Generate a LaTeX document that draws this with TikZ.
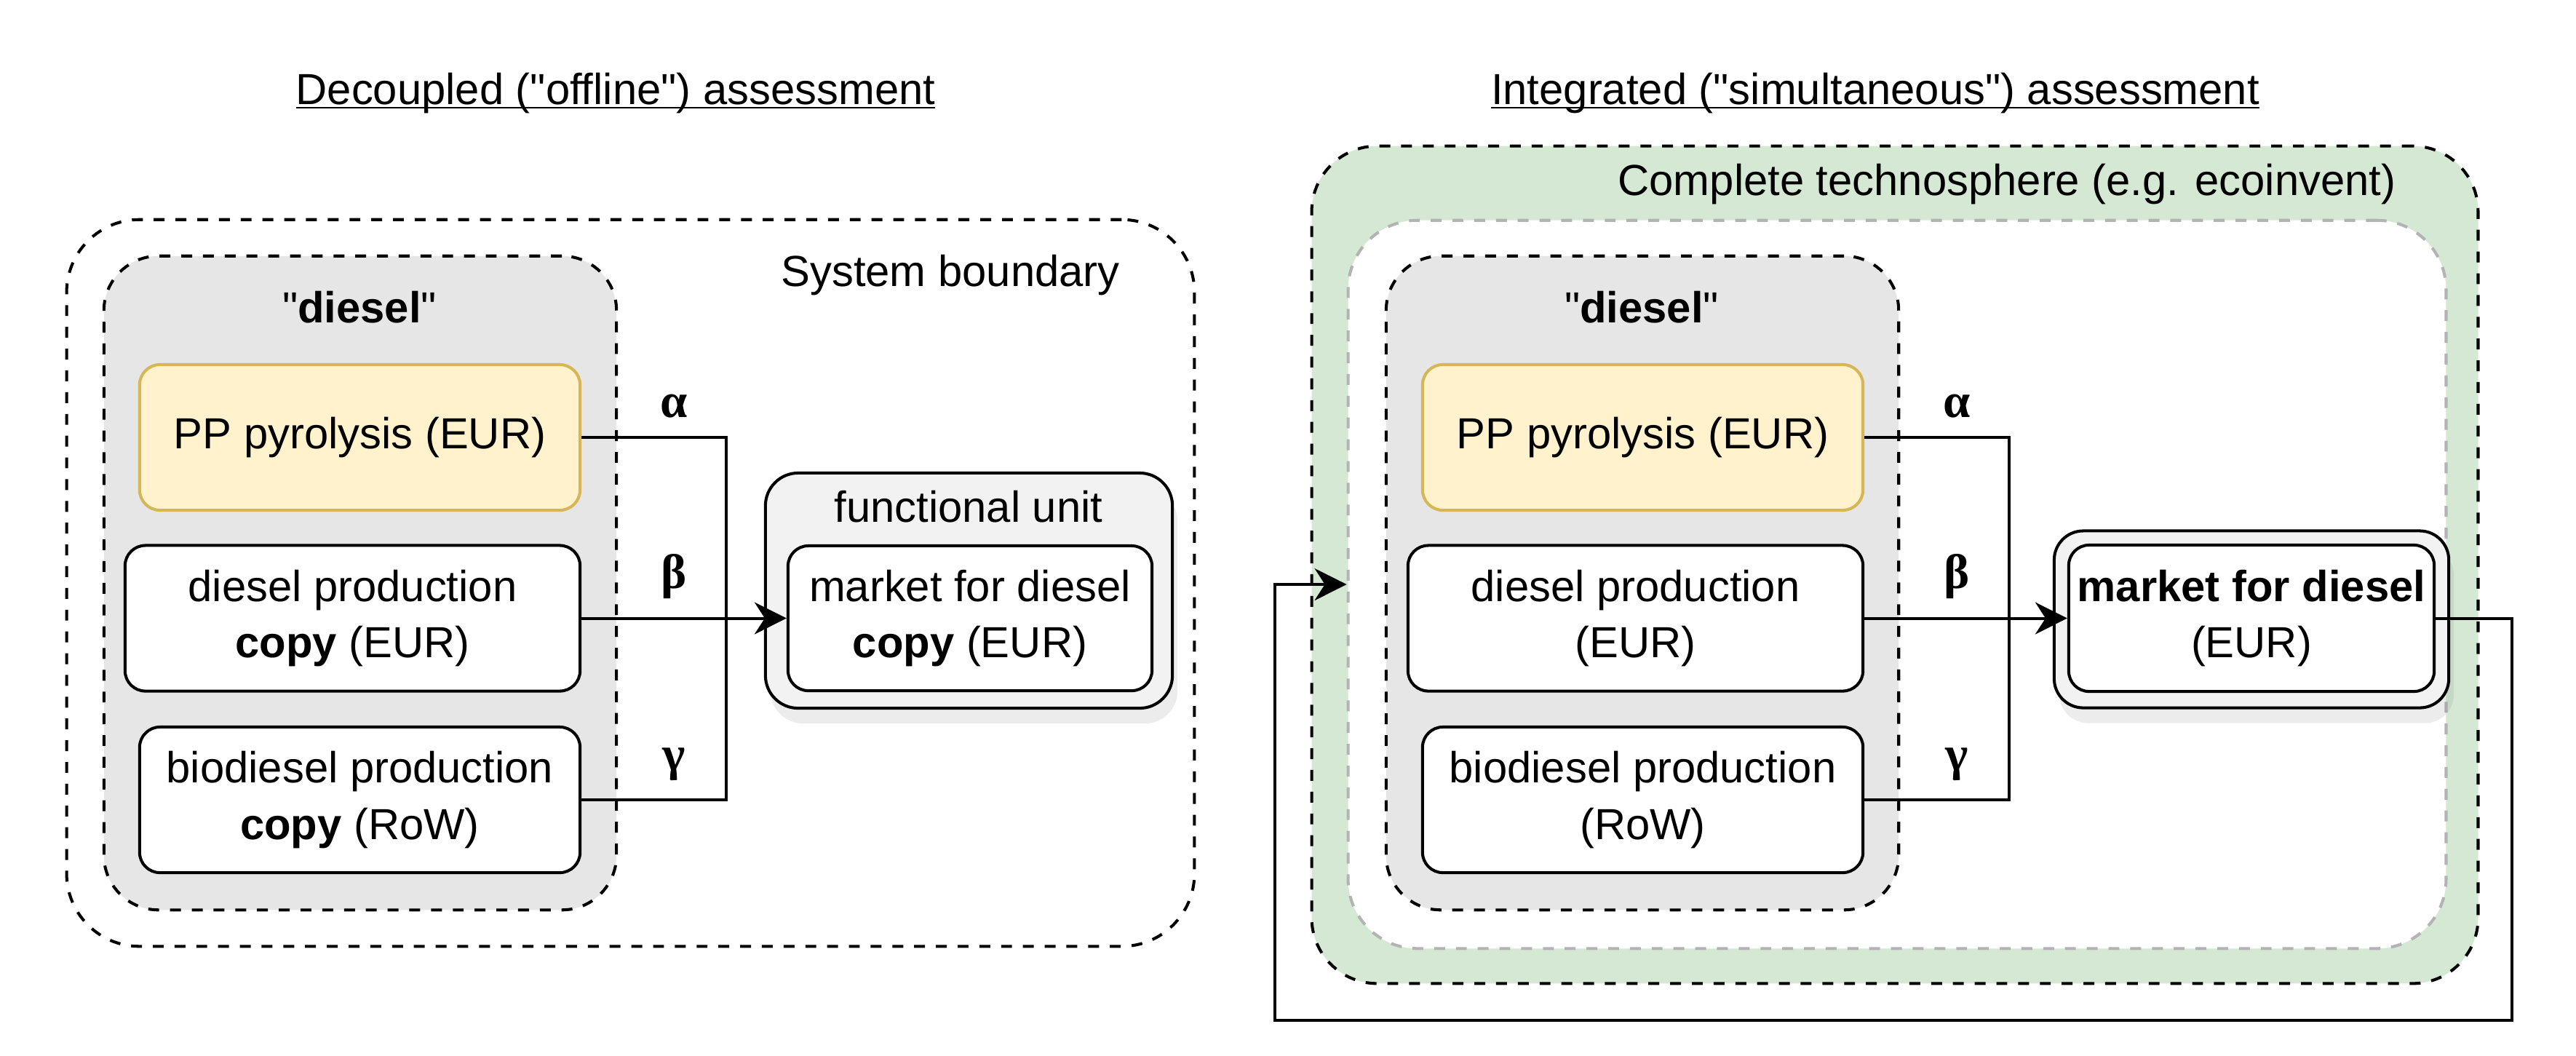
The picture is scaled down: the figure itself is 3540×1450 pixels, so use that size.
\documentclass[tikz,border=0pt]{standalone}
\usepackage{fontspec}
\setmainfont{Liberation Sans}
\newfontfamily\drawfont{Liberation Sans}
\newfontfamily\grkfont{Liberation Serif}
\usetikzlibrary{arrows.meta,shadows}
\definecolor{grpgray}{HTML}{E6E6E6}
\definecolor{ppfill}{HTML}{FFF2CC}
\definecolor{ppdraw}{HTML}{D6B656}
\definecolor{fugray}{HTML}{F2F2F2}
\definecolor{techgreen}{HTML}{D5E8D4}
\definecolor{bndgray}{HTML}{B3B3B3}

\begin{document}
\begin{tikzpicture}[x=0.01cm,y=-0.01cm,
   font=\drawfont\fontsize{17}{22}\selectfont,
   lw/.style={line width=1.15pt},
   dsh/.style={lw,dash pattern=on 4.25pt off 4.25pt},
   bndbox/.style={draw,dsh,inner sep=0pt},
   grpbox/.style={bndbox,fill=grpgray,rounded corners=0.75cm,minimum width=7.04cm,minimum height=8.98cm},
   proc/.style={draw,lw,fill=white,rounded corners=0.28cm,align=center,inner sep=0pt,minimum height=2cm},
   ppbox/.style={proc,draw=ppdraw,fill=ppfill,minimum width=6.05cm},
   fubox/.style={draw,lw,fill=fugray,inner sep=0pt,
      drop shadow={shadow xshift=2pt,shadow yshift=-6pt,opacity=0.15}},
   conn/.style={lw},
   arr/.style={lw,-{Stealth[length=12.5pt,width=12.5pt,inset=4pt]}},
   grk/.style={above=4pt,inner sep=3pt,font=\grkfont\bfseries\fontsize{19}{19}\selectfont},
   ttl/.style={anchor=base}]

\useasboundingbox (0,0) rectangle (3540,1450);

% decoupled
\node[ttl] (ttlL) at (846,143) {\underline{\smash{Decoupled ("offline") assessment}}};
\node[bndbox,rounded corners=1cm,minimum width=15.49cm,minimum height=9.98cm] (sysL) at (866.5,801) {};
\node[ttl] (sysTxt) at (1306,393) {System boundary};
\node[grpbox] (grpL) at (495,801) {};
\node[ttl] (dslL) at (494,443) {"\textbf{diesel}"};
\node[ppbox] (ppL) at (494.5,601) {PP pyrolysis (EUR)};
\node[proc,minimum width=6.25cm] (dprodL) at (484.5,849.5) {diesel production\\\textbf{copy} (EUR)};
\node[proc,minimum width=6.05cm] (bioL) at (494.5,1099) {biodiesel production\\\textbf{copy} (RoW)};
\node[fubox,rounded corners=0.45cm,minimum width=5.59cm,minimum height=3.23cm] (fuL) at (1331.5,811.5) {};
\node[ttl] (fuTxt) at (1331,717) {functional unit};
\node[proc,minimum width=5cm,minimum height=1.99cm] (mktL) at (1333,849.5) {market for diesel\\\textbf{copy} (EUR)};

\coordinate (jL) at (998,849.5);
\draw[conn] (ppL.east) -| node[grk,pos=0.32] {α} (jL);
\draw[arr] (dprodL.east) -- node[grk,pos=0.45] {β} (mktL.west);
\draw[conn] (bioL.east) -| node[grk,pos=0.32] {γ} (jL);

% integrated
\node[ttl] (ttlR) at (2577,143) {\underline{\smash{Integrated ("simultaneous") assessment}}};
\node[bndbox,fill=techgreen,rounded corners=0.9cm,minimum width=16.02cm,minimum height=11.5cm] (techR) at (2604,776) {};
\node[ttl] (techTxt) at (2758,268) {Complete technosphere (e.g. ecoinvent)};
\node[bndbox,draw=bndgray,fill=white,rounded corners=0.95cm,minimum width=15.08cm,minimum height=10cm] (innerR) at (2607,803) {};
\node[grpbox] (grpR) at (2257,801) {};
\node[ttl] (dslR) at (2256,443) {"\textbf{diesel}"};
\node[ppbox] (ppR) at (2257.5,601) {PP pyrolysis (EUR)};
\node[proc,minimum width=6.25cm] (dprodR) at (2247.5,849.5) {diesel production\\(EUR)};
\node[proc,minimum width=6.05cm] (bioR) at (2257.5,1099) {biodiesel production\\(RoW)};
\node[fubox,rounded corners=0.4cm,minimum width=5.42cm,minimum height=2.43cm] (fuR) at (3094,851) {};
\node[proc,minimum width=5.02cm,minimum height=2.01cm] (mktR) at (3094,849.5) {\textbf{market for diesel}\\(EUR)};

\coordinate (jR) at (2761,849.5);
\draw[conn] (ppR.east) -| node[grk,pos=0.32] {α} (jR);
\draw[arr] (dprodR.east) -- node[grk,pos=0.456] {β} (mktR.west);
\draw[conn] (bioR.east) -| node[grk,pos=0.32] {γ} (jR);

\coordinate (fbR) at (3452,1402);
\coordinate (fbL) at (1752,1402);
\draw[arr] (mktR.east) -| (fbR) -- (fbL) |- (innerR.west);

\end{tikzpicture}
\end{document}
